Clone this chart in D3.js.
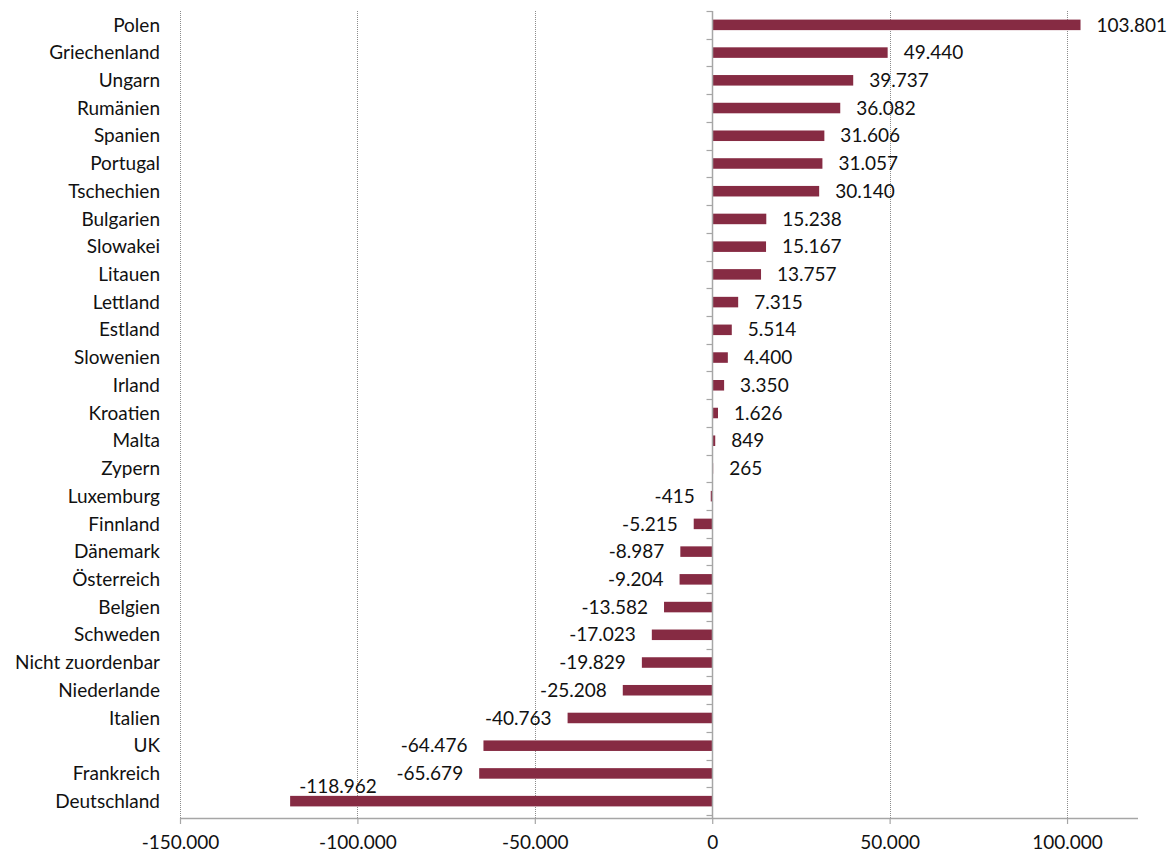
<!DOCTYPE html>
<html>
<head>
<meta charset="utf-8">
<script src="https://cdn.jsdelivr.net/npm/d3@7"></script>
<style>
  html, body { margin: 0; padding: 0; background: #ffffff; }
  svg { display: block; }
  text { font-family: Lato, "Open Sans", sans-serif; fill: #111; }
</style>
</head>
<body>
<svg id="chart" width="1175" height="854"></svg>
<script>
// Net balance per country (thousands), top to bottom
const countries = [
  "Polen", "Griechenland", "Ungarn", "Rumänien", "Spanien", "Portugal",
  "Tschechien", "Bulgarien", "Slowakei", "Litauen", "Lettland", "Estland",
  "Slowenien", "Irland", "Kroatien", "Malta", "Zypern", "Luxemburg",
  "Finnland", "Dänemark", "Österreich", "Belgien", "Schweden",
  "Nicht zuordenbar", "Niederlande", "Italien", "UK", "Frankreich", "Deutschland"
];
const values = [
  103801, 49440, 39737, 36082, 31606, 31057,
  30140, 15238, 15167, 13757, 7315, 5514,
  4400, 3350, 1626, 849, 265, -415,
  -5215, -8987, -9204, -13582, -17023,
  -19829, -25208, -40763, -64476, -65679, -118962
];
const xTicks = [-150000, -100000, -50000, 0, 50000, 100000];

const data = countries.map((c, i) => ({ country: c, value: values[i] }));

const svg = d3.select("#chart");
const plotLeft = 180, plotRight = 1138, plotTop = 11, plotBottom = 818;
const FS = "19px";

const x = d3.scaleLinear().domain([-150000, 120000]).range([plotLeft, plotRight]);
const y = d3.scaleBand().domain(countries).range([plotTop, 815]).paddingInner(0.62).paddingOuter(0.31);

const fmt = v => d3.format(",")(v).replace(/,/g, ".").replace("−", "-");

// vertical dotted gridlines
svg.append("g")
  .selectAll("line")
  .data(xTicks.filter(t => t !== 0))
  .join("line")
  .attr("x1", d => Math.round(x(d)) + 0.5)
  .attr("x2", d => Math.round(x(d)) + 0.5)
  .attr("y1", plotTop)
  .attr("y2", plotBottom)
  .attr("stroke", "#8c8c8c")
  .attr("stroke-width", 1)
  .attr("stroke-dasharray", "1,1");

// bars
svg.append("g")
  .selectAll("rect")
  .data(data)
  .join("rect")
  .attr("x", d => x(Math.min(0, d.value)))
  .attr("y", d => y(d.country))
  .attr("width", d => Math.abs(x(d.value) - x(0)))
  .attr("height", y.bandwidth())
  .attr("fill", "#862b43");

// bottom axis
const xAxis = d3.axisBottom(x)
  .tickValues(xTicks)
  .tickSize(6)
  .tickPadding(9)
  .tickFormat(fmt);
const gx = svg.append("g")
  .attr("transform", `translate(0,${plotBottom})`)
  .call(xAxis);
gx.select(".domain").attr("stroke", "#a6a6a6").attr("stroke-width", 1.5)
  .attr("d", `M${plotLeft},0.5H${plotRight}`);
gx.selectAll(".tick line").attr("stroke", "#a6a6a6").attr("stroke-width", 1.2);
gx.selectAll(".tick text")
  .style("font-family", "Lato, 'Open Sans', sans-serif")
  .style("font-size", FS)
  .attr("fill", "#111")
  .attr("dy", "0.85em");

// vertical zero axis with category ticks between rows
const zx = Math.round(x(0)) + 0.5;
const zeroAxis = svg.append("g");
zeroAxis.append("line")
  .attr("x1", zx).attr("x2", zx)
  .attr("y1", plotTop).attr("y2", plotBottom)
  .attr("stroke", "#a6a6a6").attr("stroke-width", 1.5);
const step = y.step();
zeroAxis.selectAll("line.cat")
  .data(d3.range(countries.length + 1))
  .join("line")
  .attr("class", "cat")
  .attr("x1", zx - 6).attr("x2", zx)
  .attr("y1", i => Math.round(plotTop + i * step) + 0.5)
  .attr("y2", i => Math.round(plotTop + i * step) + 0.5)
  .attr("stroke", "#a6a6a6").attr("stroke-width", 1.2);

// category labels
svg.append("g")
  .selectAll("text")
  .data(countries)
  .join("text")
  .attr("x", 160)
  .attr("y", d => y(d) + y.bandwidth() / 2)
  .attr("dy", "0.35em")
  .attr("text-anchor", "end")
  .style("font-size", FS)
  .text(d => d);

// value labels
svg.append("g")
  .selectAll("text")
  .data(data)
  .join("text")
  .attr("x", d => {
    if (d.country === "Deutschland") return x(d.value) + 9;
    return d.value >= 0 ? x(d.value) + 16 : x(d.value) - 16;
  })
  .attr("y", d => {
    const cy = y(d.country) + y.bandwidth() / 2;
    return d.country === "Deutschland" ? cy - 15 : cy;
  })
  .attr("dy", "0.35em")
  .attr("text-anchor", d => (d.value >= 0 || d.country === "Deutschland") ? "start" : "end")
  .style("font-size", FS)
  .text(d => fmt(d.value));
</script>
</body>
</html>
